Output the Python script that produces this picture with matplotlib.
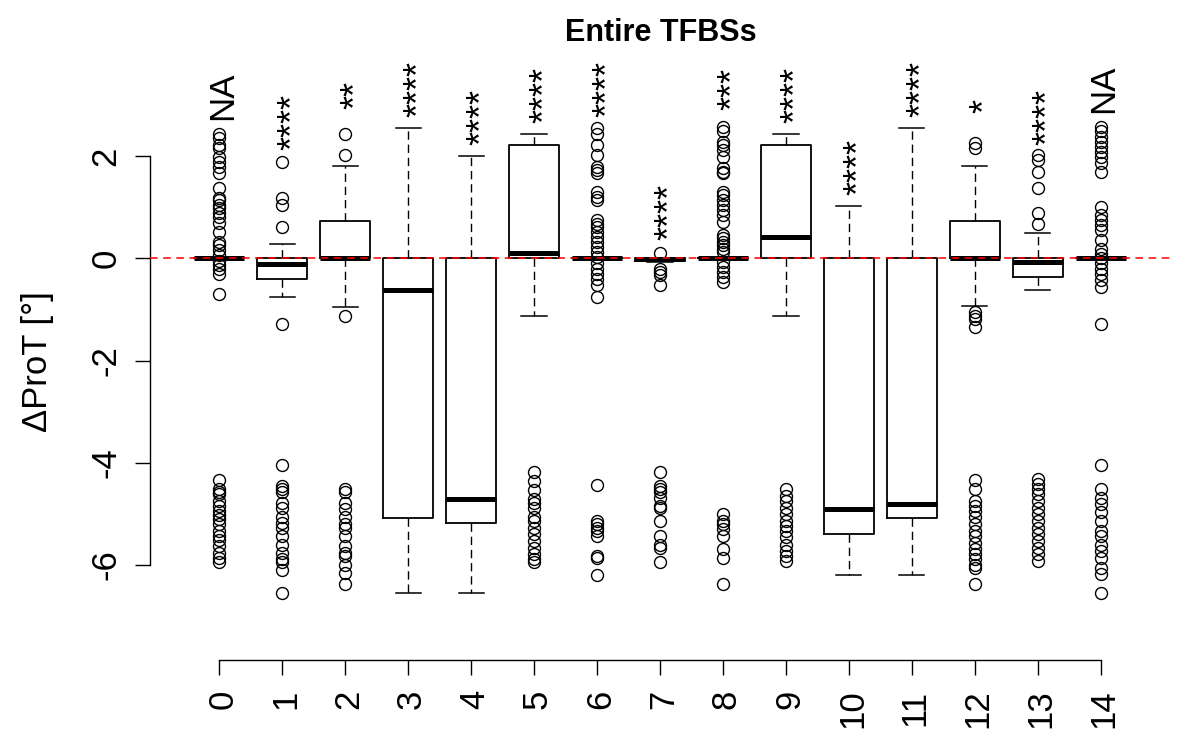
import matplotlib
matplotlib.use("Agg")
import matplotlib.pyplot as plt
from matplotlib.transforms import ScaledTranslation

plt.rcParams['font.family'] = ['Liberation Sans', 'DejaVu Sans']
plt.rcParams['axes.unicode_minus'] = False

# ---------------- data ----------------
categories = list(range(15))
q1 = [0, -0.40, 0, -5.09, -5.17, 0, 0, -0.05, 0, 0, -5.40, -5.09, 0, -0.37, 0]
medians = [0, -0.12, 0, -0.63, -4.71, 0.11, 0, -0.02, 0, 0.42, -4.91, -4.81, 0, -0.08, 0]
q3 = [0, 0, 0.73, 0, 0, 2.21, 0, 0, 0, 2.21, 0, 0, 0.73, 0, 0]
whisker_low = [0, -0.76, -0.95, -6.54, -6.54, -1.12, 0, -0.08, 0, -1.12, -6.20, -6.20, -0.93, -0.63, 0]
whisker_high = [0, 0.28, 1.80, 2.54, 2.01, 2.43, 0, 0, 0, 2.43, 1.02, 2.54, 1.80, 0.50, 0]

fliers_upper = [
    [2.44, 2.35, 2.21, 2.16, 1.99, 1.89, 1.79, 1.66, 1.37, 1.18, 1.14, 1.04, 0.98, 0.88,
     0.81, 0.69, 0.52, 0.32, 0.25, 0.16, 0.06, -0.06, -0.14, -0.20, -0.30, -0.69],
    [1.89, 1.17, 1.04, 0.61, -1.28],
    [2.43, 2.02, -1.12],
    [],
    [],
    [],
    [2.54, 2.44, 2.22, 2.02, 1.79, 1.73, 1.66, 1.30, 1.20, 1.14, 0.75, 0.68, 0.61, 0.52,
     0.42, 0.32, 0.22, 0.12, 0.03, -0.10, -0.20, -0.30, -0.40, -0.53, -0.76],
    [0.11, -0.20, -0.27, -0.33, -0.53],
    [2.57, 2.48, 2.28, 2.22, 2.12, 1.99, 1.76, 1.69, 1.66, 1.30, 1.24, 1.14, 1.04, 0.94,
     0.84, 0.71, 0.45, 0.39, 0.32, 0.25, 0.19, 0.12, -0.07, -0.17, -0.27, -0.37, -0.46],
    [],
    [],
    [],
    [2.25, 2.15, -1.05, -1.12, -1.18, -1.35],
    [2.02, 1.92, 1.69, 1.37, 0.88, 0.68],
    [2.57, 2.48, 2.38, 2.28, 2.18, 2.08, 1.99, 1.86, 1.69, 1.01, 0.84, 0.75, 0.65, 0.55,
     0.35, 0.19, 0.09, 0.0, -0.10, -0.20, -0.30, -0.43, -0.56, -1.28],
]

fliers_lower = [
    [-4.34, -4.52, -4.58, -4.62, -4.75, -4.84, -4.94, -5.02, -5.10, -5.20, -5.33, -5.43,
     -5.52, -5.63, -5.76, -5.86, -5.95],
    [-4.04, -4.45, -4.52, -4.58, -4.78, -4.88, -5.07, -5.17, -5.27, -5.43, -5.60, -5.76,
     -5.89, -5.95, -6.09, -6.54],
    [-4.52, -4.58, -4.78, -4.91, -5.07, -5.20, -5.27, -5.43, -5.63, -5.76, -5.82, -5.99,
     -6.15, -6.38],
    [],
    [],
    [-4.19, -4.35, -4.54, -4.71, -4.78, -4.88, -5.07, -5.14, -5.27, -5.40, -5.53, -5.66,
     -5.79, -5.89, -5.95],
    [-4.44, -5.14, -5.20, -5.27, -5.33, -5.43, -5.83, -5.86, -6.20],
    [-4.19, -4.45, -4.52, -4.58, -4.68, -4.84, -4.88, -5.14, -5.43, -5.60, -5.66, -5.95],
    [-5.01, -5.14, -5.20, -5.30, -5.43, -5.69, -5.86, -6.38],
    [-4.52, -4.65, -4.75, -4.88, -5.01, -5.14, -5.23, -5.33, -5.46, -5.60, -5.72, -5.82,
     -5.92],
    [],
    [],
    [-4.34, -4.52, -4.75, -4.84, -4.94, -5.07, -5.20, -5.33, -5.43, -5.56, -5.69, -5.79,
     -5.89, -5.99, -6.05, -6.38],
    [-4.32, -4.42, -4.52, -4.61, -4.75, -4.88, -5.01, -5.14, -5.27, -5.40, -5.53, -5.66,
     -5.79, -5.92],
    [-4.04, -4.52, -4.68, -4.81, -4.97, -5.14, -5.33, -5.43, -5.60, -5.72, -5.86, -6.05,
     -6.17, -6.54],
]

sig_labels = ["NA", "****", "**", "****", "****", "****", "****", "****", "***",
              "****", "****", "****", "*", "****", "NA"]
sig_label_y = [2.71, 2.12, 2.92, 2.76, 2.22, 2.64, 2.77, 0.35, 2.90, 2.64, 1.24, 2.77,
               2.84, 2.22, 2.84]

y_ticks = [-6, -4, -2, 0, 2]
title = "Entire TFBSs"
y_label = "\u0394ProT [\u00b0]"

# ---------------- figure ----------------
W, H = 1200, 750
fig = plt.figure(figsize=(12, 7.5), dpi=100)
ax = fig.add_axes([150 / W, 1 - 660 / H, 1020 / W, (660 - 59) / H])
ax.set_xlim(-1.1, 15.1)
ax.set_ylim(-7.858, 3.898)

stats = []
for i in categories:
    stats.append(dict(med=medians[i], q1=q1[i], q3=q3[i],
                      whislo=whisker_low[i], whishi=whisker_high[i],
                      fliers=fliers_upper[i] + fliers_lower[i]))

ax.bxp(stats, positions=categories, widths=0.8, capwidths=0.4, manage_ticks=False,
       boxprops=dict(color='black', linewidth=1.3),
       medianprops=dict(color='black', linewidth=3.6, solid_capstyle='butt'),
       whiskerprops=dict(color='black', linewidth=1.0, linestyle=(0, (6, 3.5))),
       capprops=dict(color='black', linewidth=1.1),
       flierprops=dict(marker='o', markerfacecolor='none', markeredgecolor='black',
                       markersize=8.6, markeredgewidth=1.0, linestyle='none'))

ax.axhline(0, color='red', linewidth=1.1, linestyle=(0, (5, 3.6)), zorder=10)

# significance labels
for i in categories:
    lab = sig_labels[i]
    if lab == "NA":
        ax.annotate(lab, xy=(i, sig_label_y[i]), xytext=(9.0, 0), textcoords='offset points',
                    rotation=90, rotation_mode='anchor', ha='left', va='baseline',
                    fontsize=25, annotation_clip=False)
    else:
        ax.annotate(lab, xy=(i, sig_label_y[i]), xytext=(15.0, 0), textcoords='offset points',
                    rotation=90, rotation_mode='anchor', ha='left', va='baseline',
                    fontsize=26, annotation_clip=False)

# axes styling
for s in ['top', 'right']:
    ax.spines[s].set_visible(False)
ax.spines['left'].set_bounds(-6, 2)
ax.spines['bottom'].set_bounds(0, 14)
for s in ['left', 'bottom']:
    ax.spines[s].set_linewidth(1.0)

ax.set_xticks(categories, labels=[str(c) for c in categories])
ax.set_yticks(y_ticks, labels=[str(v) for v in y_ticks])
ax.tick_params(axis='x', length=10.8, width=1.0, pad=10.5, labelsize=25, labelrotation=90)
ax.tick_params(axis='y', length=10.8, width=1.0, pad=9.1, labelsize=25, labelrotation=90)
for lab in ax.get_yticklabels():
    lab.set_verticalalignment('center')
for lab in ax.get_xticklabels():
    lab.set_transform(lab.get_transform() + ScaledTranslation(3.5 / 100, 0, fig.dpi_scale_trans))

fig.text(661 / W, 1 - 41 / H, title, ha='center', va='baseline', fontsize=22,
         fontweight='bold')
fig.text(47 / W, 1 - 361.7 / H, y_label, rotation=90, rotation_mode='anchor',
         ha='center', va='baseline', fontsize=25)

fig.savefig("out.png", dpi=100)
